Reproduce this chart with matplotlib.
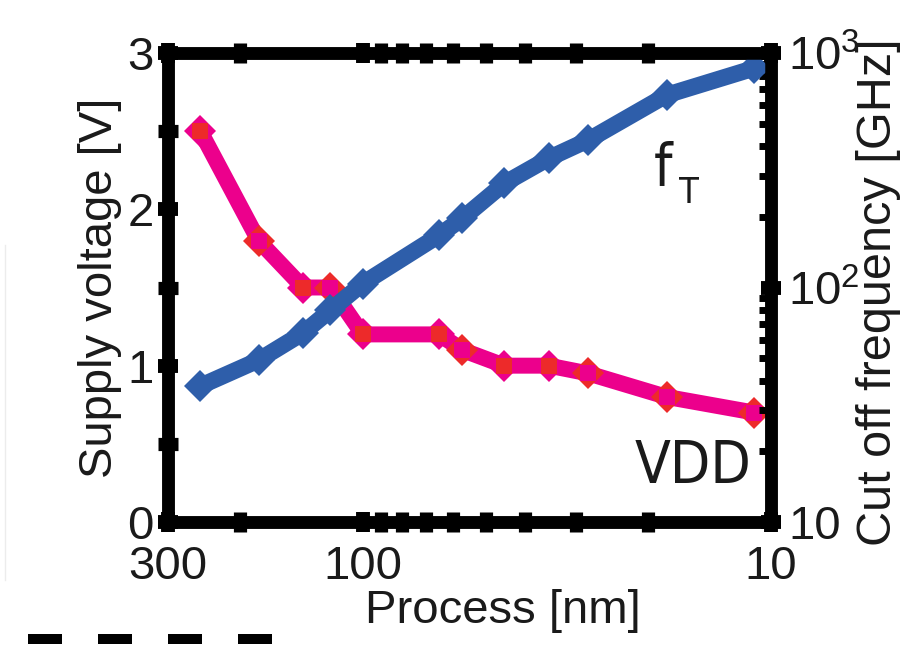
import numpy as np
import matplotlib
matplotlib.use('Agg')
import matplotlib.pyplot as plt
from matplotlib import font_manager
from matplotlib.ticker import FixedLocator, FixedFormatter, NullFormatter
from matplotlib.lines import Line2D

plt.rcParams['font.family'] = ['Liberation Sans', 'DejaVu Sans']
plt.rcParams['mathtext.fontset'] = 'custom'
plt.rcParams['mathtext.rm'] = 'Liberation Sans'
plt.rcParams['mathtext.it'] = 'Liberation Sans:italic'
plt.rcParams['mathtext.bf'] = 'Liberation Sans:bold'

#===============================================================================
# data
process_nm = [250, 180, 140, 120, 100, 65, 57, 45, 35, 28, 18, 11]
vdd_v      = [2.5, 1.8, 1.5, 1.5, 1.2, 1.2, 1.1, 1.0, 1.0, 0.95, 0.8, 0.7]
ft_ghz     = [38, 49, 64, 80, 104, 167, 197, 278, 356, 426, 662, 861]
# VDD marker variant: True -> red diamond with magenta square inside
vdd_red_diamond = [False, True, False, True, False, False, True, False, False, True, True, True]

x_major        = [300, 100, 10]
x_major_labels = ['300', '100', '10']
x_minor        = [200, 90, 80, 70, 60, 50, 40, 30, 20]
vdd_major        = [0, 1, 2, 3]
vdd_major_labels = ['0', '1', '2', '3']
vdd_minor        = [0.5, 1.5, 2.5]
ft_major        = [10, 100, 1000]
ft_major_labels = ['10', r'$\mathregular{10^{2}}$', r'$\mathregular{10^{3}}$']
ft_minor        = [20, 30, 40, 50, 60, 70, 80, 90, 200, 300, 400, 500, 600, 700, 800, 900]

PINK = '#EC008C'
RED  = '#ED2A2A'
BLUE = '#2E5EAA'
TXT  = '#1a1a1a'
FS   = 34

# a condensed face for the curve names, if one is installed
narrow_file = None
for f in font_manager.fontManager.ttflist:
    fn = f.fname.lower()
    if ('condensed' in fn or 'narrow' in fn) and f.weight in (400, 'normal', 'regular') \
            and f.style == 'normal' and 'mono' not in fn:
        narrow_file = f.fname
        break
if narrow_file:
    name_font = dict(fontproperties=font_manager.FontProperties(fname=narrow_file))
    big, small = 42, 26
else:
    name_font = dict(family=['Liberation Sans', 'DejaVu Sans'])
    big, small = 36, 24

#===============================================================================
fig = plt.figure(figsize=(9.02, 6.46), dpi=100)
W, H = 902.0, 646.0
ax = fig.add_axes([168/W, 1-522/H, (771-168)/W, (522-53)/H])
ax2 = ax.twinx()

x   = np.array(process_nm, dtype=float)
v   = np.array(vdd_v)
ft  = np.array(ft_ghz, dtype=float)
swp = np.array(vdd_red_diamond)

# VDD curve
ax.plot(x, v, color=PINK, lw=11.5, solid_joinstyle='round', clip_on=False, zorder=2)
ax.plot(x[~swp], v[~swp], 'D', color=PINK, ms=16.8, mew=0, clip_on=False, zorder=2.1)
ax.plot(x[~swp], v[~swp], 's', color=RED, ms=11.5, mew=0, clip_on=False, zorder=2.2)
ax.plot(x[swp], v[swp], 'D', color=RED, ms=16.8, mew=0, clip_on=False, zorder=2.1)
ax.plot(x[swp], v[swp], 's', color=PINK, ms=11.5, mew=0, clip_on=False, zorder=2.2)

# fT curve
ax2.plot(x, ft, color=BLUE, lw=12, marker='D', ms=16.8, mew=0,
         solid_joinstyle='round', clip_on=False, zorder=2)

# scales
ax.set_xscale('log')
ax.set_xlim(300, 10)
ax.set_ylim(0, 3)
ax2.set_yscale('log')
ax2.set_ylim(10, 1000)

ax.xaxis.set_major_locator(FixedLocator(x_major))
ax.xaxis.set_major_formatter(FixedFormatter(x_major_labels))
ax.xaxis.set_minor_locator(FixedLocator(x_minor))
ax.xaxis.set_minor_formatter(NullFormatter())
ax.yaxis.set_major_locator(FixedLocator(vdd_major))
ax.yaxis.set_major_formatter(FixedFormatter(vdd_major_labels))
ax.yaxis.set_minor_locator(FixedLocator(vdd_minor))
ax2.yaxis.set_major_locator(FixedLocator(ft_major))
ax2.yaxis.set_major_formatter(FixedFormatter(ft_major_labels))
ax2.yaxis.set_minor_locator(FixedLocator(ft_minor))
ax2.yaxis.set_minor_formatter(NullFormatter())

ax.tick_params(axis='x', which='both', bottom=True, top=True, direction='inout',
               labelsize=FS, labelcolor=TXT, pad=9)
ax.tick_params(axis='y', which='both', left=True, right=False, direction='inout',
               labelsize=FS, labelcolor=TXT, pad=3)
ax.tick_params(which='major', length=15, width=10)
ax.tick_params(which='minor', length=14, width=9.5)
ax2.tick_params(axis='y', which='major', left=False, right=True, direction='inout',
                length=15, width=10, labelsize=FS, labelcolor=TXT, pad=5)
ax2.tick_params(axis='y', which='minor', left=False, right=True, direction='in',
                length=9, width=5)

for a in (ax, ax2):
    for sp in a.spines.values():
        sp.set_linewidth(9)
        sp.set_capstyle('projecting')
        sp.set_color('black')

# axis labels
ax.set_xlabel('Process [nm]', fontsize=FS, color=TXT)
ax.xaxis.set_label_coords(0.556, -0.143)
ax.set_ylabel('Supply voltage [V]', fontsize=FS, color=TXT)
ax.yaxis.set_label_coords(-0.076, 0.5)
ax2.set_ylabel('Cut off frequency [GHz]', fontsize=FS + 1, color=TXT)
ax2.yaxis.set_label_coords(1.1415, 0.49)

# curve names
ax.text(0.774, 0.083, 'VDD', transform=ax.transAxes, fontsize=big, color=TXT,
        ha='left', va='baseline', **name_font)
ax.text(0.806, 0.7186, 'f', transform=ax.transAxes, fontsize=42, color=TXT,
        ha='left', va='baseline', **name_font)
ax.text(0.848, 0.680, 'T', transform=ax.transAxes, fontsize=small, color=TXT,
        ha='left', va='baseline', **name_font)

# cropped fragments at the picture edges
fig.add_artist(Line2D([28/W, 272/W], [1-639/H, 1-639/H], transform=fig.transFigure,
                      color='black', lw=7.2, linestyle=(0, (3.4, 3.6))))
fig.add_artist(Line2D([5/W, 5/W], [1-245/H, 1-580/H], transform=fig.transFigure,
                      color='#ececec', lw=1))

fig.savefig('out.png', dpi=100)
